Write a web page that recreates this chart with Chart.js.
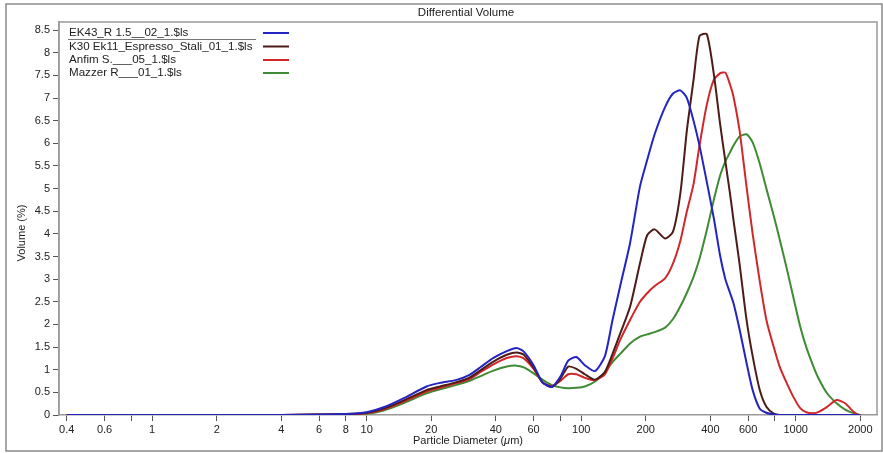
<!DOCTYPE html>
<html>
<head>
  <title>Differential Volume</title>
  <script src="https://cdn.jsdelivr.net/npm/chart.js"></script>
  <style>
    body { margin: 0; background: #fff; }
    #wrap { width: 883px; height: 453px; position: relative; }
  </style>
</head>
<body>
  <div id="wrap"><canvas id="chart"></canvas></div>

  <script>
    // particle diameters (um) at which the curves were read
    const sizes = [0.4, 1, 2, 4, 6, 8, 10, 12, 15, 19, 22, 26, 30, 34, 39, 45, 50, 54, 60, 66, 73, 80, 87, 95,
      104, 116, 129, 140, 152, 169, 188, 203, 220, 246, 268, 290, 311, 334, 356, 385, 415, 445, 470, 494,
      513, 547, 590, 630, 680, 730, 790, 840, 905, 975, 1050, 1120, 1210, 1280, 1400, 1550, 1700, 1860, 1950, 2000];

    const ek43 = [0, 0, 0, 0, 0.01, 0.02, 0.06, 0.17, 0.38, 0.63, 0.71, 0.77, 0.88, 1.06, 1.26, 1.41, 1.48, 1.40, 1.10, 0.72, 0.62, 0.85, 1.20, 1.28,
      1.10, 0.97, 1.30, 2.10, 2.85, 3.80, 5.05, 5.63, 6.20, 6.80, 7.10, 7.17, 7.00, 6.50, 5.95, 5.15, 4.35, 3.50, 3.00, 2.70,
      2.47, 1.90, 1.15, 0.55, 0.14, 0.05, 0.01, 0, 0, 0, 0, 0, 0, 0, 0, 0, 0, 0, 0, 0];

    const k30 = [0, 0, 0, 0, 0.01, 0.02, 0.05, 0.14, 0.33, 0.55, 0.63, 0.72, 0.82, 0.99, 1.18, 1.33, 1.38, 1.33, 1.05, 0.72, 0.62, 0.80, 1.07, 1.02,
      0.90, 0.78, 0.95, 1.35, 1.80, 2.39, 3.35, 3.97, 4.10, 3.90, 4.05, 4.90, 6.29, 7.40, 8.37, 8.41, 7.54, 6.40, 5.60, 4.89,
      4.30, 3.35, 2.10, 1.30, 0.55, 0.18, 0.03, 0, 0, 0, 0, 0, 0, 0, 0, 0, 0, 0, 0, 0];

    const anfim = [0, 0, 0, 0, 0.01, 0.01, 0.04, 0.12, 0.30, 0.52, 0.60, 0.70, 0.79, 0.95, 1.12, 1.26, 1.30, 1.25, 1.02, 0.72, 0.64, 0.75, 0.90, 0.90,
      0.82, 0.77, 0.90, 1.25, 1.66, 2.10, 2.50, 2.69, 2.85, 3.02, 3.35, 3.85, 4.50, 5.10, 5.95, 6.85, 7.40, 7.55, 7.56, 7.30,
      7.03, 6.29, 5.04, 4.00, 2.95, 2.10, 1.50, 1.08, 0.72, 0.40, 0.15, 0.06, 0.04, 0.07, 0.18, 0.33, 0.26, 0.07, 0.01, 0];

    const mazzer = [0, 0, 0, 0, 0, 0.01, 0.03, 0.10, 0.27, 0.48, 0.57, 0.66, 0.75, 0.86, 0.98, 1.07, 1.09, 1.05, 0.92, 0.78, 0.66, 0.61, 0.59, 0.60,
      0.63, 0.74, 0.95, 1.17, 1.35, 1.58, 1.73, 1.78, 1.83, 1.93, 2.12, 2.40, 2.70, 3.05, 3.45, 4.08, 4.75, 5.30, 5.60, 5.80,
      5.95, 6.15, 6.20, 6.02, 5.55, 5.00, 4.40, 3.90, 3.27, 2.60, 1.95, 1.50, 1.07, 0.80, 0.48, 0.26, 0.12, 0.04, 0.01, 0];

    const seriesNames = ['EK43_R 1.5__02_1.$ls', 'K30 Ek11_Espresso_Stali_01_1.$ls', 'Anfim S.___05_1.$ls', 'Mazzer R___01_1.$ls'];
    const seriesColors = ['#2424c0', '#4e1c18', '#d0282a', '#3f8a34'];

    // x ticks: every tick mark, and the ones that carry a label
    const xTicks = [0.4, 0.6, 0.8, 1, 2, 4, 6, 8, 10, 20, 40, 60, 80, 100, 200, 400, 600, 800, 1000, 2000];
    const xTickLabels = ['0.4', '0.6', '', '1', '2', '4', '6', '8', '10', '20', '40', '60', '', '100', '200', '400', '600', '', '1000', '2000'];

    const FONT = '"Liberation Sans", Arial, Helvetica, sans-serif';

    const toPts = (vals) => sizes.map((d, i) => ({ x: d, y: vals[i] }));

    // frames, title, axis titles and the legend
    const decor = {
      id: 'decor',
      beforeDraw(chart) {
        const ctx = chart.ctx;
        ctx.save();
        ctx.fillStyle = '#fff';
        ctx.fillRect(0, 0, chart.width, chart.height);
        ctx.strokeStyle = '#8a8a8a';
        ctx.lineWidth = 1.5;
        ctx.strokeRect(6, 4, 876, 447);
        ctx.restore();
      },
      afterDraw(chart) {
        const ctx = chart.ctx;
        const a = chart.chartArea;
        ctx.save();
        // plot frame
        ctx.strokeStyle = '#999';
        ctx.lineWidth = 1.5;
        ctx.beginPath();
        ctx.moveTo(a.left, a.bottom);
        ctx.lineTo(a.left, a.top);
        ctx.lineTo(a.right, a.top);
        ctx.lineTo(a.right, a.bottom);
        ctx.stroke();

        ctx.fillStyle = '#222';
        ctx.font = '11.5px ' + FONT;
        ctx.textAlign = 'center';
        ctx.textBaseline = 'middle';
        ctx.fillText('Differential Volume', 466, 13);

        // y axis title
        ctx.save();
        ctx.translate(22, 233);
        ctx.rotate(-Math.PI / 2);
        ctx.font = '11px ' + FONT;
        ctx.fillText('Volume (%)', 0, 0);
        ctx.restore();

        // x axis title with italic mu
        const p1 = 'Particle Diameter (', p3 = 'm)';
        ctx.font = 'italic 11px ' + FONT;
        const wMu = ctx.measureText('\u03bc').width;
        ctx.font = '11px ' + FONT;
        const w1 = ctx.measureText(p1).width, w3 = ctx.measureText(p3).width;
        let x = (a.left + a.right) / 2 - (w1 + wMu + w3) / 2;
        ctx.textAlign = 'left';
        ctx.fillText(p1, x, 441);
        x += w1;
        ctx.font = 'italic 11px ' + FONT;
        ctx.fillText('\u03bc', x, 441);
        x += wMu;
        ctx.font = '11px ' + FONT;
        ctx.fillText(p3, x, 441);

        // legend
        ctx.font = '11.6px ' + FONT;
        const rows = [33, 46.5, 60, 73];
        seriesNames.forEach((name, i) => {
          ctx.fillStyle = '#222';
          ctx.fillText(name, 69, rows[i]);
          ctx.strokeStyle = seriesColors[i];
          ctx.lineWidth = 2;
          ctx.beginPath();
          ctx.moveTo(263, rows[i]);
          ctx.lineTo(289, rows[i]);
          ctx.stroke();
        });
        ctx.strokeStyle = '#777';
        ctx.lineWidth = 1;
        ctx.beginPath();
        ctx.moveTo(68, 39.5);
        ctx.lineTo(256, 39.5);
        ctx.stroke();
        ctx.restore();
      }
    };

    const chart = new Chart(document.getElementById('chart'), {
      type: 'line',
      data: {
        datasets: [
          { label: seriesNames[0], borderColor: seriesColors[0], data: toPts(ek43) },
          { label: seriesNames[1], borderColor: seriesColors[1], data: toPts(k30) },
          { label: seriesNames[2], borderColor: seriesColors[2], data: toPts(anfim) },
          { label: seriesNames[3], borderColor: seriesColors[3], data: toPts(mazzer) }
        ]
      },
      options: {
        responsive: true,
        maintainAspectRatio: false,
        animation: false,
        layout: { padding: { top: 22, right: 6, left: 0, bottom: 0 } },
        elements: {
          line: { borderWidth: 2, tension: 0.22, fill: false },
          point: { radius: 0 }
        },
        plugins: { legend: { display: false }, tooltip: { enabled: false } },
        scales: {
          x: {
            type: 'logarithmic',
            min: 0.368,
            max: 2393,
            afterFit: (s) => { s.height = 38; },
            afterBuildTicks: (s) => { s.ticks = xTicks.map(v => ({ value: v })); },
            grid: { drawOnChartArea: false, drawTicks: true, tickLength: 6, color: '#555' },
            border: { display: true, color: '#999', width: 1.5 },
            ticks: {
              autoSkip: false, maxRotation: 0, padding: 2, color: '#222',
              font: { family: FONT, size: 11 },
              callback: (v) => { const i = xTicks.indexOf(v); return i >= 0 ? xTickLabels[i] : ''; }
            }
          },
          y: {
            min: 0,
            max: 8.68,
            afterFit: (s) => { s.width = 59; },
            grid: { drawOnChartArea: false, drawTicks: true, tickLength: 6, color: '#555' },
            border: { display: true, color: '#999', width: 1.5 },
            ticks: {
              stepSize: 0.5, includeBounds: false, padding: 3, color: '#222',
              font: { family: FONT, size: 11 },
              callback: (v) => String(Math.round(v * 10) / 10)
            }
          }
        }
      },
      plugins: [decor]
    });
  </script>
</body>
</html>
